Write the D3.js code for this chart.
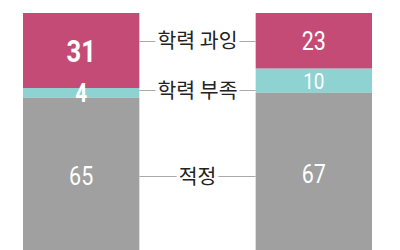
<!DOCTYPE html>
<html>
<head>
<meta charset="utf-8">
<script src="https://cdn.jsdelivr.net/npm/d3@7"></script>
<style>
  body { margin: 0; background: #fff; }
  svg { display: block; }
</style>
</head>
<body>
<div id="chart"></div>
<script>
// categories (top to bottom in each bar)
const categories = ["학력 과잉", "학력 부족", "적정"];
// two bars, percent shares
const barLeft = [31, 4, 65];
const barRight = [23, 10, 67];
const bars = [barLeft, barRight];

const colors = ["#c54b77", "#8fd2d2", "#a0a0a0"];

const width = 400, height = 250;

const svg = d3.select("#chart").append("svg")
    .attr("width", width)
    .attr("height", height);

// x: the two bar slots, y: cumulative percent
const x = d3.scaleBand()
    .domain([0, 1])
    .range([23, 372])
    .paddingInner(0.5);   // wide gap in the middle for the labels
const y = d3.scaleLinear().domain([0, 100]).range([13, 255]);

// stack each bar
const stacked = bars.map(vals => {
    let acc = 0;
    return vals.map((v, i) => {
        const seg = { y0: acc, y1: acc + v, v: v, i: i };
        acc += v;
        return seg;
    });
});

const g = svg.append("g");

stacked.forEach((segs, b) => {
    const col = g.append("g");
    col.selectAll("rect")
        .data(segs)
        .enter().append("rect")
        .attr("x", x(b))
        .attr("width", x.bandwidth())
        .attr("y", d => y(d.y0))
        .attr("height", d => y(d.y1) - y(d.y0))
        .attr("fill", d => colors[d.i]);

    // left bar's top two shares are emphasised in bold
    const bold = d => b === 0 && d.i < 2;
    col.selectAll("text")
        .data(segs)
        .enter().append("text")
        .attr("x", x(b) + x.bandwidth() / 2)
        .attr("y", d => (y(d.y0) + y(d.y1)) / 2)
        .attr("dy", "0.36em")
        .attr("text-anchor", "middle")
        .attr("fill", "#fff")
        .style("font-family", "Roboto, 'Liberation Sans', sans-serif")
        .style("font-size", d => bold(d) ? (d.v < 15 ? "26px" : "32px") : (d.v < 15 ? "22px" : "25px"))
        .style("font-weight", d => bold(d) ? "bold" : "normal")
        .attr("transform", function(d) {
            const cx = x(b) + x.bandwidth() / 2;
            const s = bold(d) ? 0.8 : 0.86;
            return `translate(${cx},0) scale(${s},1) translate(${-cx},0)`;
        })
        .text(d => d.v);
});

// ─── middle category labels with leader lines ───
const leftEdge = x(0) + x.bandwidth();
const rightEdge = x(1);
const mid = (leftEdge + rightEdge) / 2;

categories.forEach((name, i) => {
    const a = stacked[0][i], c = stacked[1][i];
    // centre of the overlap of the two segments
    const lo = Math.max(a.y0, c.y0), hi = Math.min(a.y1, c.y1);
    const ly = y((lo + hi) / 2);
    const lineY = Math.round(ly) + 0.5;

    const t = svg.append("text")
        .attr("x", mid)
        .attr("y", ly)
        .attr("dy", "0.36em")
        .attr("text-anchor", "middle")
        .attr("fill", "#222")
        .style("font-family", "'Noto Sans CJK KR', sans-serif")
        .style("font-size", "20.5px")
        .text(name);

    const w = t.node().getComputedTextLength();
    const pad = 2;
    svg.append("line")
        .attr("x1", leftEdge).attr("x2", mid - w / 2 - pad)
        .attr("y1", lineY).attr("y2", lineY)
        .attr("stroke", "#aaa").attr("stroke-width", 1);
    svg.append("line")
        .attr("x1", mid + w / 2 + pad).attr("x2", rightEdge)
        .attr("y1", lineY).attr("y2", lineY)
        .attr("stroke", "#aaa").attr("stroke-width", 1);
});
</script>
</body>
</html>
